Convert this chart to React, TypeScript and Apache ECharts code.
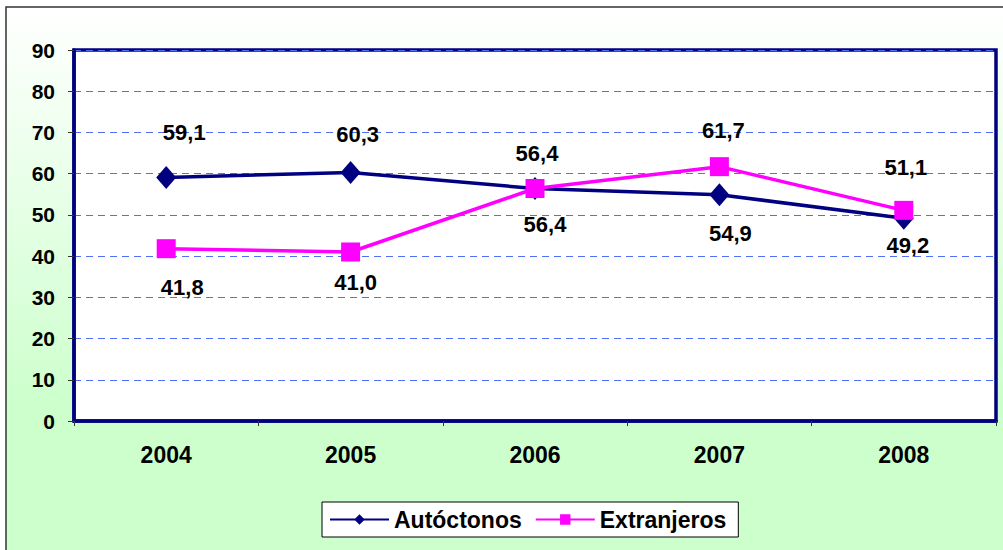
import React, { useEffect, useRef } from "react";
import * as echarts from "echarts";

const years = ["2004", "2005", "2006", "2007", "2008"];
const autoctonos = [59.1, 60.3, 56.4, 54.9, 49.2];
const extranjeros = [41.8, 41.0, 56.4, 61.7, 51.1];
const autOffsets = [[18, -45], [7, -38], [10, 36], [11, 39], [4, 27]];
const extOffsets = [[16, 39], [5, 31], [2, -35], [4, -36], [2, -43]];

const FONT = "'Liberation Sans', Arial, sans-serif";
const fmt = (v: number) => v.toFixed(1).replace(".", ",");

export default function App() {
  const ref = useRef<HTMLDivElement>(null);
  useEffect(() => {
    document.body.style.margin = "0";
    const chart = echarts.init(ref.current!, null, { renderer: "svg" });
    const mk = (vals: number[], offs: number[][]) =>
      vals.map((v, i) => ({
        value: v,
        label: { position: "inside", offset: offs[i] },
      }));
    const labelStyle = {
      show: true,
      color: "#000",
      fontFamily: FONT,
      fontWeight: "bold",
      fontSize: 22,
      formatter: (p: any) => fmt(p.value),
    };
    chart.setOption({
      animation: false,
      graphic: [
        {
          type: "rect",
          z: -10,
          silent: true,
          shape: { x: 6, y: 7, width: 1010, height: 560 },
          style: {
            fill: new echarts.graphic.LinearGradient(0, 0, 0, 1, [
              { offset: 0, color: "#ffffff" },
              { offset: 0.72, color: "#ccffcc" },
              { offset: 1, color: "#ccffcc" },
            ]),
            stroke: "#333",
            lineWidth: 1.5,
          },
        },
      ],
      grid: {
        left: 74,
        top: 50,
        right: 7,
        bottom: 129,
        show: true,
        backgroundColor: "#ffffff",
        borderColor: "#000080",
        borderWidth: 3.5,
      },
      legend: {
        left: 322,
        top: 502,
        backgroundColor: "#ffffff",
        borderColor: "#000",
        borderWidth: 1,
        borderRadius: 0,
        padding: [6, 12, 6, 7],
        itemGap: 13,
        itemWidth: 59,
        itemHeight: 13,
        textStyle: { fontFamily: FONT, fontWeight: "bold", fontSize: 23, color: "#000" },
        data: ["Autóctonos", "Extranjeros"],
      },
      xAxis: {
        type: "category",
        data: years,
        boundaryGap: true,
        axisLine: { lineStyle: { color: "#000080", width: 3.5 } },
        axisTick: { show: true, length: 5, lineStyle: { color: "#333", width: 1 } },
        axisLabel: { margin: 22, color: "#000", fontFamily: FONT, fontWeight: "bold", fontSize: 23 },
        splitLine: { show: false },
      },
      yAxis: {
        type: "value",
        min: 0,
        max: 90,
        interval: 10,
        axisLine: { show: true, lineStyle: { color: "#000080", width: 3.5 } },
        axisTick: { show: true, length: 6, lineStyle: { color: "#333", width: 1 } },
        axisLabel: { margin: 19, color: "#000", fontFamily: FONT, fontWeight: "bold", fontSize: 21 },
        splitLine: { show: true, lineStyle: { color: "#4f6ff5", width: 1, type: [7, 5] } },
      },
      series: [
        {
          name: "Autóctonos",
          type: "line",
          data: mk(autoctonos, autOffsets),
          symbol: "diamond",
          symbolSize: [20, 23],
          itemStyle: { color: "#000080" },
          lineStyle: { color: "#000080", width: 3.5 },
          label: labelStyle,
          z: 2,
        },
        {
          name: "Extranjeros",
          type: "line",
          data: mk(extranjeros, extOffsets),
          symbol: "rect",
          symbolSize: 19,
          itemStyle: { color: "#ff00ff" },
          lineStyle: { color: "#ff00ff", width: 3.5 },
          label: labelStyle,
          z: 3,
        },
      ],
    });
    return () => chart.dispose();
  }, []);
  return (
    <div style={{ position: "fixed", left: 0, top: 0, width: 1003, height: 550, background: "#fff" }}>
      <div ref={ref} style={{ width: 1003, height: 550 }} />
    </div>
  );
}
